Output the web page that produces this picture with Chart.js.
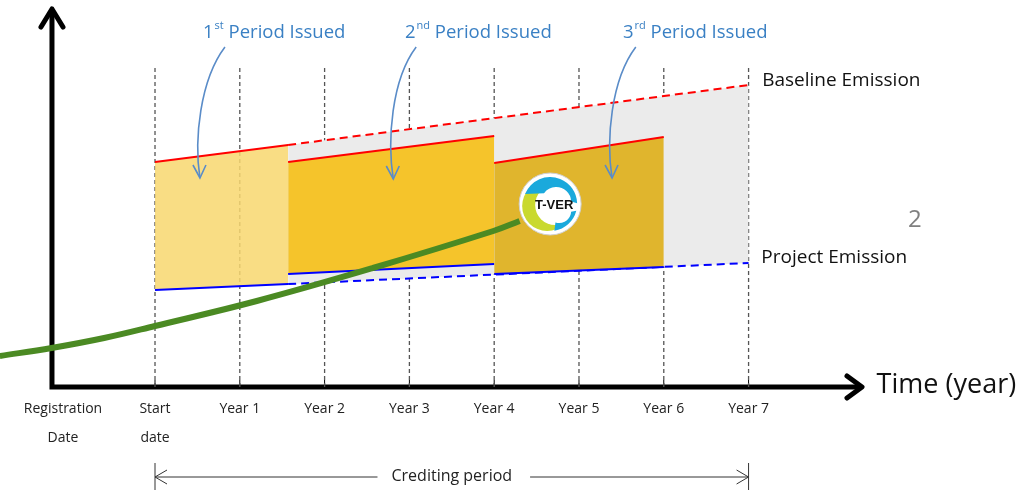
<!DOCTYPE html>
<html>
<head>
<meta charset="utf-8">
<script src="https://cdn.jsdelivr.net/npm/chart.js@4.4.1/dist/chart.umd.min.js"></script>
<style>
  html, body { margin: 0; padding: 0; background: #fff; }
</style>
</head>
<body>
<canvas id="c" width="1027" height="490"></canvas>
<script>
// x = years after crediting start, y = emission (arbitrary units)
const years = [0, 1, 2, 3, 4, 5, 6, 7];
const tickYears = [-1.085, 0, 1, 2, 3, 4, 5, 6, 7];
const tickLabels = [['Registration', 'Date'], ['Start', 'date'], 'Year 1', 'Year 2', 'Year 3', 'Year 4', 'Year 5', 'Year 6', 'Year 7'];
const gridTop = 320;
const axisX = -1.215;

// baseline / project emission (dashed part after 1st period)
const baseX = [1.57, 7];
const baseY = [242, 302];
const projX = [1.57, 7];
const projY = [103, 124];

// issued periods
const p1X = [0, 1.57];
const p1Top = [225, 242];
const p1Bottom = [97, 103];
const p2X = [1.57, 4];
const p2Top = [225, 251];
const p2Bottom = [113, 123];
const p3X = [4, 6];
const p3Top = [224, 250];
const p3Bottom = [113, 120];

// green growth curve
const greenX = [-1.83, -1.22, -0.6, 0, 1.2, 2.57, 3.99, 4.3];
const greenY = [31, 39, 49, 61, 86, 119, 156, 166];

const logoAt = [4.66, 183];

const pts = (xs, ys) => xs.map((x, i) => ({ x: x, y: ys[i] }));
const yearLines = years.flatMap(yr => [{ x: yr, y: 0 }, { x: yr, y: gridTop }, { x: yr, y: null }]);

const RED = '#ff0000';
const BLUE = '#0000ff';

function line(data, color, extra) {
  return Object.assign({
    data: data, borderColor: color, borderWidth: 2, pointRadius: 0, fill: false, tension: 0
  }, extra || {});
}

const decor = {
  id: 'decor',
  beforeDatasetsDraw(chart) {
    const ctx = chart.ctx, a = chart.chartArea, xs = chart.scales.x;
    const ax = xs.getPixelForValue(axisX);
    ctx.save();
    ctx.strokeStyle = '#000';
    ctx.lineWidth = 5;
    ctx.lineJoin = 'miter';
    ctx.beginPath();
    ctx.moveTo(ax, a.top + 2);
    ctx.lineTo(ax, a.bottom);
    ctx.lineTo(a.right - 4, a.bottom);
    ctx.stroke();
    ctx.lineJoin = 'round';
    ctx.lineCap = 'round';
    ctx.beginPath();
    ctx.moveTo(ax - 11, a.top + 20);
    ctx.lineTo(ax, a.top + 2);
    ctx.lineTo(ax + 11, a.top + 20);
    ctx.stroke();
    ctx.beginPath();
    ctx.moveTo(a.right - 18, a.bottom - 11);
    ctx.lineTo(a.right - 3, a.bottom);
    ctx.lineTo(a.right - 18, a.bottom + 11);
    ctx.stroke();
    // little tick marks on the time axis
    ctx.lineWidth = 1;
    ctx.lineCap = 'butt';
    years.forEach(yr => {
      const x = xs.getPixelForValue(yr);
      ctx.beginPath();
      ctx.moveTo(x, a.bottom - 7);
      ctx.lineTo(x, a.bottom);
      ctx.stroke();
    });
    ctx.restore();
  },
  afterDatasetsDraw(chart) {
    const ctx = chart.ctx, xs = chart.scales.x, ys = chart.scales.y;
    const cx = xs.getPixelForValue(logoAt[0]), cy = ys.getPixelForValue(logoAt[1]);
    ctx.save();
    ctx.beginPath();
    ctx.arc(cx, cy, 31, 0, Math.PI * 2);
    ctx.fillStyle = '#fff';
    ctx.fill();
    ctx.strokeStyle = '#cfcfcf';
    ctx.lineWidth = 1;
    ctx.stroke();
    // lime crescent
    ctx.beginPath();
    ctx.arc(cx - 3, cy + 2, 25, 0, Math.PI * 2);
    ctx.fillStyle = '#c9d92e';
    ctx.fill();
    ctx.beginPath();
    ctx.arc(cx + 5, cy + 1, 20, 0, Math.PI * 2);
    ctx.fillStyle = '#fff';
    ctx.fill();
    // blue top wave
    ctx.fillStyle = '#1aa9dc';
    ctx.beginPath();
    ctx.arc(cx, cy, 27, 1.12 * Math.PI, 1.99 * Math.PI);
    ctx.arc(cx + 6, cy - 2, 15, 1.99 * Math.PI, 1.2 * Math.PI, true);
    ctx.closePath();
    ctx.fill();
    // blue bottom blob
    ctx.beginPath();
    ctx.arc(cx, cy, 27, 0.08 * Math.PI, 0.45 * Math.PI);
    ctx.arc(cx + 9, cy + 7, 12, 0.6 * Math.PI, 0.02 * Math.PI, true);
    ctx.closePath();
    ctx.fill();
    ctx.fillStyle = '#111';
    ctx.font = 'bold 13px "Liberation Sans"';
    ctx.textAlign = 'center';
    ctx.textBaseline = 'middle';
    ctx.fillText('T-VER', cx + 4, cy + 1);
    ctx.restore();
  },
  afterDraw(chart) {
    const ctx = chart.ctx, a = chart.chartArea, xs = chart.scales.x, ys = chart.scales.y;
    const P = (x, y) => [xs.getPixelForValue(x), ys.getPixelForValue(y)];
    ctx.save();
    ctx.textBaseline = 'middle';
    ctx.textAlign = 'left';

    // period captions
    ctx.fillStyle = '#3a80c4';
    [[0.566, '1', 'st'], [2.948, '2', 'nd'], [5.519, '3', 'rd']].forEach(([x, n, s]) => {
      let [lx, ly] = P(x, 354);
      ctx.font = '18.5px "Open Sans"';
      ctx.fillText(n, lx, ly);
      lx += ctx.measureText(n).width + 1;
      ctx.font = '11px "Open Sans"';
      ctx.fillText(s, lx, ly - 7);
      lx += ctx.measureText(s).width;
      ctx.font = '18.5px "Open Sans"';
      ctx.fillText(' Period Issued', lx, ly);
    });

    // curved arrows
    ctx.strokeStyle = '#5a8cc8';
    ctx.lineWidth = 1.6;
    [[0.825, 340, 0.53, 209], [3.08, 340, 2.81, 208], [5.67, 340, 5.39, 209]].forEach(([x0, y0, x1, y1]) => {
      const [sx, sy] = P(x0, y0), [tx, ty] = P(x1, y1);
      ctx.beginPath();
      ctx.moveTo(sx, sy);
      ctx.bezierCurveTo(sx - 25, sy + 33, tx - 6, ty - 38, tx, ty);
      ctx.stroke();
      ctx.beginPath();
      ctx.moveTo(tx - 7, ty - 13);
      ctx.lineTo(tx, ty);
      ctx.lineTo(tx + 6, ty - 13);
      ctx.stroke();
    });

    // right-hand texts
    ctx.fillStyle = '#111';
    ctx.font = '19px "Open Sans"';
    let [bx, by] = P(7.16, 306);
    ctx.fillText('Baseline Emission', bx, by);
    [bx, by] = P(7.15, 129);
    ctx.fillText('Project Emission', bx, by);
    ctx.font = '27px "Open Sans"';
    [bx, by] = P(8.51, 2);
    ctx.fillText('Time (year)', bx, by);
    ctx.fillStyle = '#808080';
    ctx.font = '24px "Open Sans"';
    ctx.textAlign = 'center';
    [bx, by] = P(8.96, 167);
    ctx.fillText('2', bx, by);

    // crediting period
    const x0 = xs.getPixelForValue(0), x7 = xs.getPixelForValue(7);
    const ly = a.bottom + 90;
    ctx.strokeStyle = '#333';
    ctx.fillStyle = '#222';
    ctx.lineWidth = 1;
    ctx.font = '16px "Open Sans"';
    const label = 'Crediting period';
    const mid = (x0 + x7) / 2;
    const tw = ctx.measureText(label).width;
    ctx.fillText(label, mid, ly - 1);
    ctx.beginPath();
    ctx.moveTo(x0, a.bottom + 76); ctx.lineTo(x0, a.bottom + 103);
    ctx.moveTo(x7, a.bottom + 76); ctx.lineTo(x7, a.bottom + 103);
    ctx.moveTo(x0, ly); ctx.lineTo(mid - tw / 2 - 14, ly);
    ctx.moveTo(mid + tw / 2 + 18, ly); ctx.lineTo(x7, ly);
    ctx.moveTo(x0 + 12, ly - 7); ctx.lineTo(x0, ly); ctx.lineTo(x0 + 12, ly + 7);
    ctx.moveTo(x7 - 12, ly - 7); ctx.lineTo(x7, ly); ctx.lineTo(x7 - 12, ly + 7);
    ctx.stroke();
    ctx.restore();
  }
};

new Chart(document.getElementById('c'), {
  type: 'line',
  data: {
    datasets: [
      line(yearLines, '#555', { borderWidth: 1.3, borderDash: [4, 3], spanGaps: false, order: 20 }),
      // grey band between baseline and project emission
      line(pts(baseX, baseY), RED, { borderDash: [8, 5], fill: '+1', backgroundColor: '#ebebeb', order: 15 }),
      line(pts(projX, projY), BLUE, { borderDash: [8, 5], order: 14 }),
      // 1st period
      line(pts(p1X, p1Top), RED, { fill: '+1', backgroundColor: 'rgba(248,215,112,0.86)', order: 10 }),
      line(pts(p1X, p1Bottom), BLUE, { order: 9 }),
      // 2nd period
      line(pts(p2X, p2Top), RED, { fill: '+1', backgroundColor: 'rgba(247,190,12,0.86)', order: 8 }),
      line(pts(p2X, p2Bottom), BLUE, { order: 7 }),
      // 3rd period
      line(pts(p3X, p3Top), RED, { fill: '+1', backgroundColor: 'rgba(222,172,14,0.86)', order: 6 }),
      line(pts(p3X, p3Bottom), BLUE, { order: 5 }),
      // growth curve
      line(pts(greenX, greenY), '#4b8a23', { borderWidth: 6, tension: 0.4, clip: false, order: 1 })
    ]
  },
  options: {
    responsive: false,
    animation: false,
    events: [],
    layout: { padding: { left: 0, right: 162, top: 7, bottom: 0 } },
    plugins: { legend: { display: false }, tooltip: { enabled: false } },
    scales: {
      x: {
        type: 'linear',
        min: -1.828,
        max: 8.373,
        grid: { display: false, drawTicks: false },
        border: { display: false },
        afterFit: s => { s.height = 103; },
        afterBuildTicks: s => { s.ticks = tickYears.map(v => ({ value: v })); },
        ticks: {
          autoSkip: false,
          maxRotation: 0,
          padding: 8,
          color: '#222',
          font: { family: '"Open Sans"', size: 14, lineHeight: 2.05 },
          callback: (v, i) => tickLabels[i]
        }
      },
      y: { display: false, min: 0, max: 380 }
    }
  },
  plugins: [decor]
});
</script>
</body>
</html>
